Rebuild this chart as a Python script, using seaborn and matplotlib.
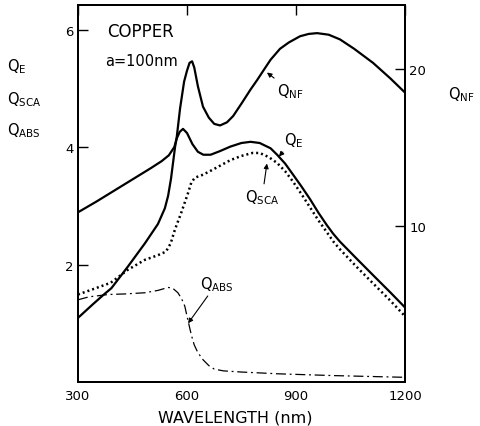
import matplotlib
matplotlib.use("Agg")
import matplotlib.pyplot as plt
import seaborn as sns
import numpy as np
import pandas as pd

# ---- data (wavelength in nm) ----
qe_wl = [300, 350, 400, 450, 500, 530, 550, 565, 572, 580, 589, 600, 615, 630,
         645, 665, 690, 720, 750, 775, 800, 830, 848, 870, 892, 915, 939, 962,
         985, 1003, 1021, 1067, 1112, 1159, 1200]
qe_val = [2.89, 3.07, 3.26, 3.45, 3.64, 3.76, 3.86, 4.00, 4.15, 4.26, 4.31,
          4.24, 4.05, 3.92, 3.87, 3.87, 3.93, 4.01, 4.07, 4.09, 4.07, 3.98,
          3.87, 3.72, 3.53, 3.33, 3.11, 2.88, 2.67, 2.52, 2.39, 2.10, 1.82,
          1.53, 1.27]

qsca_wl = [300, 350, 390, 437, 484, 520, 542, 555, 567, 584, 603, 612, 622,
           640, 660, 690, 720, 750, 780, 800, 825, 848, 870, 892, 915, 939,
           962, 985, 1003, 1021, 1067, 1112, 1159, 1200]
qsca_val = [1.49, 1.60, 1.69, 1.91, 2.08, 2.16, 2.22, 2.36, 2.60, 2.88, 3.22,
            3.40, 3.48, 3.52, 3.58, 3.68, 3.78, 3.85, 3.90, 3.90, 3.83, 3.73,
            3.59, 3.41, 3.20, 2.97, 2.75, 2.55, 2.39, 2.26, 1.96, 1.68, 1.39,
            1.12]

qabs_wl = [300, 330, 383, 430, 484, 520, 548, 560, 575, 585, 594, 600, 606,
           612, 620, 630, 644, 660, 675, 700, 750, 800, 850, 900, 1000, 1100,
           1200]
qabs_val = [1.40, 1.45, 1.49, 1.50, 1.52, 1.56, 1.61, 1.60, 1.52, 1.42, 1.29,
            1.12, 0.96, 0.80, 0.63, 0.50, 0.38, 0.28, 0.22, 0.19, 0.17, 0.155,
            0.14, 0.13, 0.11, 0.095, 0.08]

qnf_wl = [300, 340, 369, 392, 438, 484, 520, 539, 548, 556, 567, 572, 581,
          592, 600, 607, 614, 620, 630, 644, 660, 675, 691, 710, 727, 750, 775,
          793, 810, 830, 856, 880, 911, 935, 958, 990, 1021, 1060, 1112, 1160,
          1200]
qnf_val = [4.1, 4.95, 5.55, 6.0, 7.4, 8.86, 10.1, 11.1, 11.9, 13.0, 15.0, 15.7,
           17.5, 19.2, 19.9, 20.4, 20.5, 20.1, 18.9, 17.6, 16.9, 16.5, 16.4,
           16.6, 17.0, 17.8, 18.7, 19.3, 19.9, 20.6, 21.3, 21.7, 22.1, 22.25,
           22.3, 22.2, 21.9, 21.3, 20.4, 19.4, 18.5]

x_ticks = [300, 600, 900, 1200]
left_ticks = [2, 4, 6]
right_ticks = [10, 20]

sns.set_theme(style="white")
plt.rcParams['font.family'] = ['DejaVu Sans']
plt.rcParams['mathtext.fontset'] = 'dejavusans'
plt.rcParams['text.color'] = 'black'

fig = plt.figure(figsize=(4.8, 4.27), dpi=100)
ax = fig.add_axes([0.1625, 0.103, 0.68125, 0.883])
ax2 = ax.twinx()

sns.lineplot(x=qe_wl, y=qe_val, ax=ax, color='black', lw=1.6)
sns.lineplot(x=qsca_wl, y=qsca_val, ax=ax, color='black', lw=1.8,
             linestyle=(0, (0.8, 1.2)))
sns.lineplot(x=qabs_wl, y=qabs_val, ax=ax, color='black', lw=0.9,
             linestyle=(0, (8, 3, 1.5, 3)))
sns.lineplot(x=qnf_wl, y=qnf_val, ax=ax2, color='black', lw=1.6)

ax.set_xlim(300, 1200)
ax.set_ylim(0, 6.42)
ax2.set_ylim(0, 24.1)

ax.set_xticks(x_ticks)
ax.set_yticks(left_ticks)
ax2.set_yticks(right_ticks)
ax.tick_params(axis='x', direction='in', length=7, width=1, top=True,
               labelsize=9.5, pad=5, colors='black')
ax.tick_params(axis='y', direction='in', length=7, width=1, labelsize=9.5,
               pad=3, colors='black')
ax2.tick_params(axis='y', direction='in', length=7, width=1, labelsize=9.5,
                pad=3, colors='black')
ax.set_xlabel('')
ax.set_ylabel('')
ax2.set_ylabel('')

for a in (ax, ax2):
    for s in a.spines.values():
        s.set_color('black')
        s.set_linewidth(1.4)

# text labels
ax.text(380, 5.98, 'COPPER', fontsize=12, va='center', ha='left')
ax.text(375, 5.47, 'a=100nm', fontsize=10.5, va='center', ha='left')

arrow = dict(arrowstyle='-|>', color='black', lw=0.8, mutation_scale=7,
             shrinkA=0, shrinkB=0)
ax.annotate(r'$\mathregular{Q_{NF}}$', xy=(820, 5.27), xytext=(848, 4.96),
            fontsize=10.5, va='center', ha='left', arrowprops=arrow)
ax.annotate(r'$\mathregular{Q_{E}}$', xy=(853, 3.84), xytext=(868, 4.13),
            fontsize=10.5, va='center', ha='left', arrowprops=arrow)
ax.annotate(r'$\mathregular{Q_{SCA}}$', xy=(820, 3.72), xytext=(760, 3.16),
            fontsize=10.5, va='center', ha='left', arrowprops=arrow)
ax.annotate(r'$\mathregular{Q_{ABS}}$', xy=(603, 1.0), xytext=(636, 1.68),
            fontsize=10.5, va='center', ha='left', arrowprops=arrow)

fig.text(0.015, 0.845, r'$\mathregular{Q_{E}}$', fontsize=10.5, va='center')
fig.text(0.015, 0.766, r'$\mathregular{Q_{SCA}}$', fontsize=10.5, va='center')
fig.text(0.015, 0.693, r'$\mathregular{Q_{ABS}}$', fontsize=10.5, va='center')
fig.text(0.933, 0.778, r'$\mathregular{Q_{NF}}$', fontsize=10.5, va='center')
fig.text(0.49, 0.021, 'WAVELENGTH (nm)', fontsize=11.5, va='center',
         ha='center')

fig.savefig('out.png', dpi=100, facecolor='white')
